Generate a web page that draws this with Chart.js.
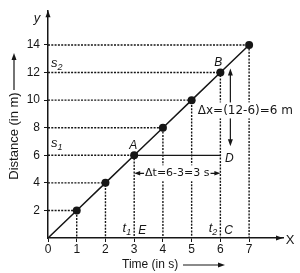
<!DOCTYPE html>
<html>
<head>
<meta charset="utf-8">
<script src="https://cdn.jsdelivr.net/npm/chart.js@4/dist/chart.umd.min.js"></script>
<style>
  html, body { margin: 0; padding: 0; background: #fff; }
</style>
</head>
<body>
<canvas id="graph" width="300" height="273"></canvas>
<script>
// time (s) and distance (m) for each marked point
const times = [1, 2, 3, 4, 5, 6, 7]
const distances = [2, 4, 6, 8, 10, 12, 14]
const xTicks = [0, 1, 2, 3, 4, 5, 6, 7]
const yTicks = [2, 4, 6, 8, 10, 12, 14]
// the two readings used in the worked example
const pointA = { t: 3, s: 6 }
const pointB = { t: 6, s: 12 }
const deltaXText = 'Δx=(12-6)=6 m'
const deltaTText = 'Δt=6-3=3 s'

const ink = '#161616'

// small filled arrow head, tip at (x, y)
function arrowHead(ctx, x, y, dir, len, half) {
    let dx = 0, dy = 0
    if (dir === 'up') dy = 1
    if (dir === 'down') dy = -1
    if (dir === 'left') dx = 1
    if (dir === 'right') dx = -1
    ctx.beginPath()
    ctx.moveTo(x, y)
    ctx.lineTo(x + dx * len - dy * half, y + dy * len - dx * half)
    ctx.lineTo(x + dx * len + dy * half, y + dy * len + dx * half)
    ctx.closePath()
    ctx.fill()
}

// letter with a subscript, e.g. s1, t2
function subText(ctx, main, sub, x, y, align) {
    ctx.font = 'italic 13px "Liberation Sans"'
    let w1 = ctx.measureText(main).width
    ctx.font = 'italic 9px "Liberation Sans"'
    let w2 = ctx.measureText(sub).width
    let left = align === 'right' ? x - w1 - w2 : x
    ctx.textAlign = 'left'
    ctx.textBaseline = 'alphabetic'
    ctx.font = 'italic 13px "Liberation Sans"'
    ctx.fillText(main, left, y)
    ctx.font = 'italic 9px "Liberation Sans"'
    ctx.fillText(sub, left + w1, y + 3)
}

function boxedText(ctx, text, x, y, font) {
    ctx.font = font
    let w = ctx.measureText(text).width
    ctx.fillStyle = '#fff'
    ctx.fillRect(x - w / 2 - 1, y - 8, w + 2, 16)
    ctx.fillStyle = ink
    ctx.textAlign = 'center'
    ctx.textBaseline = 'middle'
    ctx.fillText(text, x, y)
}

const annotations = {
    id: 'annotations',
    afterDatasetsDraw(chart) {
        let ctx = chart.ctx
        let xs = chart.scales.x, ys = chart.scales.y
        let px = v => xs.getPixelForValue(v)
        let py = v => ys.getPixelForValue(v)
        let area = chart.chartArea
        ctx.save()
        ctx.fillStyle = ink
        ctx.strokeStyle = ink

        // axis arrows and names
        arrowHead(ctx, area.left, area.top - 1, 'up', 7, 2.5)
        arrowHead(ctx, area.right, area.bottom, 'right', 7, 2.5)
        ctx.font = 'italic 13px "Liberation Sans"'
        ctx.textAlign = 'center'
        ctx.textBaseline = 'middle'
        ctx.fillText('y', area.left - 11, area.top + 7)
        ctx.font = '13px "Liberation Sans"'
        ctx.fillText('X', area.right + 7, area.bottom + 2)

        // points of interest
        ctx.font = 'italic 12px "Liberation Sans"'
        ctx.fillText('A', px(pointA.t) - 1, py(pointA.s) - 10)
        ctx.fillText('B', px(pointB.t) - 2, py(pointB.s) - 10)
        ctx.fillText('D', px(pointB.t) + 9, py(pointA.s) + 3)
        ctx.textAlign = 'left'
        ctx.textBaseline = 'alphabetic'
        ctx.fillText('E', px(pointA.t) + 4, py(0) - 4)
        ctx.fillText('C', px(pointB.t) + 4, py(0) - 4)
        subText(ctx, 's', '2', px(0) + 3, py(pointB.s) - 6, 'left')
        subText(ctx, 's', '1', px(0) + 3, py(pointA.s) - 8, 'left')
        subText(ctx, 't', '1', px(pointA.t) - 3, py(0) - 6, 'right')
        subText(ctx, 't', '2', px(pointB.t) - 3, py(0) - 6, 'right')

        // delta x double arrow
        let ax = px(pointB.t) + 10
        let top = py(pointB.s) - 4, bot = py(pointA.s) - 9
        ctx.lineWidth = 1.2
        ctx.beginPath()
        ctx.moveTo(ax, top + 5)
        ctx.lineTo(ax, bot - 5)
        ctx.stroke()
        arrowHead(ctx, ax, top, 'up', 7, 2.5)
        arrowHead(ctx, ax, bot, 'down', 7, 2.5)
        boxedText(ctx, deltaXText, px(pointB.t) + 25, (top + bot) / 2 + 3, '12px "DejaVu Sans"')

        // delta t double arrow
        let ty = py(pointA.s) + 18
        let tx = (px(pointA.t) + px(pointB.t)) / 2
        ctx.beginPath()
        ctx.moveTo(px(pointA.t) + 4, ty)
        ctx.lineTo(px(pointB.t) - 4, ty)
        ctx.stroke()
        boxedText(ctx, deltaTText, tx, ty, '11px "DejaVu Sans"')
        arrowHead(ctx, px(pointA.t), ty, 'left', 6, 2.2)
        arrowHead(ctx, px(pointB.t), ty, 'right', 6, 2.2)

        // axis titles with long arrows
        ctx.font = '13px "Liberation Sans"'
        ctx.save()
        ctx.translate(14, 136)
        ctx.rotate(-Math.PI / 2)
        ctx.textAlign = 'center'
        ctx.textBaseline = 'middle'
        ctx.fillText('Distance (in m)', 0, 0)
        ctx.restore()
        ctx.lineWidth = 1.2
        ctx.beginPath()
        ctx.moveTo(14, 90)
        ctx.lineTo(14, 58)
        ctx.stroke()
        arrowHead(ctx, 14, 53, 'up', 7, 2.5)

        ctx.font = '12px "Liberation Sans"'
        ctx.textAlign = 'left'
        ctx.textBaseline = 'middle'
        ctx.fillText('Time (in s)', 122, 265)
        ctx.beginPath()
        ctx.moveTo(183, 265)
        ctx.lineTo(220, 265)
        ctx.stroke()
        arrowHead(ctx, 225, 265, 'right', 7, 2.5)
        ctx.restore()
    }
}

// dashed guides from each point down to the time axis and across to the distance axis
let guideSets = times.map((t, i) => ({
    data: [{ x: 0, y: distances[i] }, { x: t, y: distances[i] }, { x: t, y: 0 }],
    showLine: true,
    borderColor: ink,
    borderWidth: 1.4,
    borderDash: [2, 1.3],
    pointRadius: 0
}))

let mainLine = {
    data: [{ x: 0, y: 0 }].concat(times.map((t, i) => ({ x: t, y: distances[i] }))),
    showLine: true,
    borderColor: ink,
    backgroundColor: ink,
    borderWidth: 1.5,
    pointRadius: ctx => ctx.dataIndex === 0 ? 0 : 4,
    pointBorderWidth: 0
}

// solid line A -> D
let lineAD = {
    data: [{ x: pointA.t, y: pointA.s }, { x: pointB.t, y: pointA.s }],
    showLine: true,
    borderColor: ink,
    borderWidth: 1.3,
    pointRadius: 0
}

let tickFont = { family: 'Liberation Sans', size: 12 }

new Chart(document.getElementById('graph'), {
    type: 'scatter',
    data: { datasets: [mainLine, lineAD].concat(guideSets) },
    options: {
        responsive: false,
        animation: false,
        devicePixelRatio: 1,
        layout: { padding: { left: 0, top: 4, right: 17, bottom: 0 } },
        plugins: { legend: { display: false }, tooltip: { enabled: false } },
        scales: {
            x: {
                type: 'linear',
                min: 0,
                max: 8.18,
                afterBuildTicks: s => { s.ticks = xTicks.map(v => ({ value: v })) },
                afterFit: s => { s.height = 35 },
                ticks: { color: ink, font: tickFont, padding: 0, maxRotation: 0, autoSkip: false },
                grid: { drawOnChartArea: false, drawTicks: true, tickLength: 4, color: ink },
                border: { display: true, color: ink, width: 1.5 }
            },
            y: {
                type: 'linear',
                min: 0,
                max: 16.45,
                afterBuildTicks: s => { s.ticks = yTicks.map(v => ({ value: v })) },
                afterFit: s => { s.width = 48 },
                ticks: { color: ink, font: tickFont, padding: 4, autoSkip: false },
                grid: { drawOnChartArea: false, drawTicks: true, tickLength: 4, color: ink },
                border: { display: true, color: ink, width: 1.5 }
            }
        }
    },
    plugins: [annotations]
})
</script>
</body>
</html>
